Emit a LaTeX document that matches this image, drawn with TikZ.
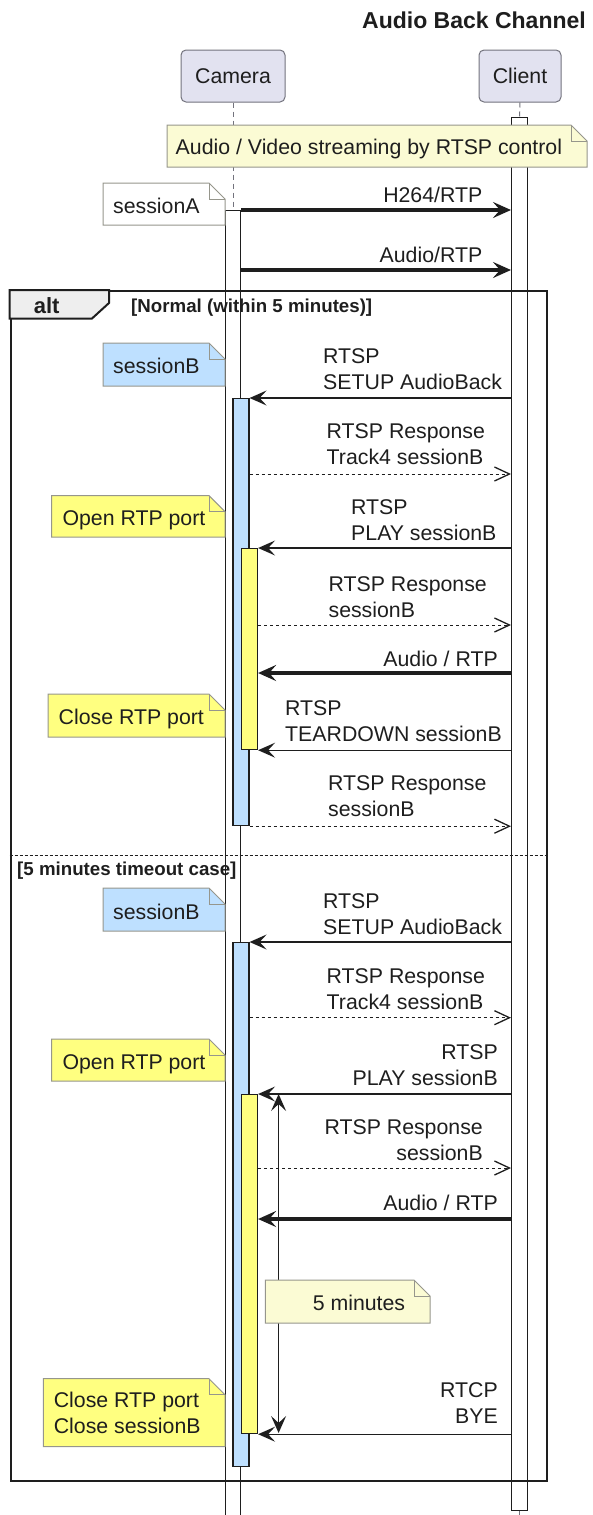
\documentclass[tikz,border=0pt]{standalone}
\usepackage{fontspec}
\setmainfont{Liberation Sans}
\usepackage{tikz}
\usetikzlibrary{arrows.meta}
\definecolor{partfill}{RGB}{226,226,240}
\definecolor{partline}{RGB}{115,115,125}
\definecolor{notepale}{RGB}{251,251,212}
\definecolor{noteline}{RGB}{150,150,140}
\definecolor{sessblue}{RGB}{190,224,255}
\definecolor{portyellow}{RGB}{255,255,128}
\definecolor{tabgray}{RGB}{238,238,238}
\definecolor{ink}{RGB}{30,30,30}

% note with a folded top right corner: x1, y1, x2, y2, fill
\newcommand{\dognote}[5]{%
  \filldraw[draw=noteline, line width=1pt, fill=#5]
    (#1,#2) -- (#3-16,#2) -- (#3,#2+16) -- (#3,#4) -- (#1,#4) -- cycle;
  \draw[draw=noteline, line width=1pt] (#3-16,#2) -- (#3-16,#2+16) -- (#3,#2+16);
}

\begin{document}
\begin{tikzpicture}[x=1pt, y=-1pt,
  every node/.style={font=\fontsize{21.3}{26}\selectfont, text=ink, inner sep=0pt},
  participant/.style={rectangle, rounded corners=5pt, fill=partfill, draw=partline,
    line width=1pt, minimum height=52pt},
  lifeline/.style={draw=partline, line width=1pt, dash pattern=on 5pt off 4pt},
  actbar/.style={rectangle, draw=ink, line width=1.2pt, minimum width=16pt, anchor=north},
  msg/.style={draw=ink, line width=1.3pt, -{Stealth[length=17pt, width=15pt, inset=7pt]}},
  stream/.style={draw=ink, line width=3.5pt, -{Stealth[length=18pt, width=16pt, inset=7pt]}},
  reply/.style={draw=ink, line width=1pt, dash pattern=on 3pt off 3pt,
    -{Straight Barb[length=15pt, width=14pt, line width=1.3pt]}},
  guard/.style={font=\fontsize{18.7}{22}\selectfont\bfseries, anchor=base west},
  lbl/.style={align=left, anchor=south west},
  rlbl/.style={align=right, anchor=south east},
  notetext/.style={anchor=base west}]
  \useasboundingbox (0,0) rectangle (592,1515);

  \node[font=\fontsize{23}{28}\selectfont\bfseries, anchor=base east] (title) at (586,28) {Audio Back Channel};

  \node[participant, minimum width=104pt] (cam) at (233,76) {Camera};
  \node[participant, minimum width=82pt] (cli) at (520,76) {Client};

  % rows of the messages
  \coordinate (rAudio) at (0,270);
  \coordinate (rResp1) at (0,474);
  \coordinate (rResp2) at (0,625);
  \coordinate (rRtpA) at (0,673);
  \coordinate (rElse) at (0,855);
  \coordinate (rResp4) at (0,1017.7);
  \coordinate (rResp5) at (0,1168);
  \coordinate (rRtpB) at (0,1219);
  \coordinate (tmTop) at (278.6,1094);
  \coordinate (tmBot) at (278.6,1433);

  % activations over the whole session
  \node[actbar, fill=white, minimum height=1393pt] (cliBar) at (519.6,117) {};
  \node[actbar, fill=white, minimum width=15.5pt, minimum height=1310pt] (camBar) at (233,210) {};
  \draw[lifeline] (cam.south) -- (camBar.north);
  \draw[lifeline] (cli.south) -- (cliBar.north);
  \draw[lifeline] (cliBar.south) -- ++(0,10);

  % alt frame
  \node[draw=ink, line width=2pt, minimum width=536pt, minimum height=1190pt, anchor=north west] (altFrame) at (9.5,290) {};
  \filldraw[fill=tabgray, draw=ink, line width=2pt]
    (altFrame.north west) -- (109,290) -- (109,303) -- (92,318.5) -- (9.5,318.5) -- cycle;
  \node[font=\fontsize{22}{26}\selectfont\bfseries, anchor=base] (altKw) at (46.7,313.5) {alt};
  \node[guard] (g1) at (131,312.7) {[Normal (within 5 minutes)]};
  \draw[draw=ink, line width=1pt, dash pattern=on 3pt off 2pt] (altFrame.west |- rElse) -- (altFrame.east |- rElse);
  \node[guard] (g2) at (17,875.7) {[5 minutes timeout case]};

  % sessionB and RTP port activations
  \node[actbar, fill=sessblue, minimum height=427pt] (bA) at (241,398) {};
  \node[actbar, fill=portyellow, minimum height=201pt] (yA) at (249.5,548) {};
  \node[actbar, fill=sessblue, minimum height=524pt] (bB) at (241,942) {};
  \node[actbar, fill=portyellow, minimum height=339pt] (yB) at (249.5,1094) {};

  \draw[msg, {Stealth[length=17pt, width=15pt, inset=7pt]}-{Stealth[length=17pt, width=15pt, inset=7pt]}] (tmTop) -- (tmBot);

  % notes
  \dognote{167}{125}{587}{167}{notepale}
  \node[notetext] (nStream) at (175.5,154) {Audio / Video streaming by RTSP control};
  \dognote{103}{183}{225}{225}{white}
  \node[notetext] (nSessA) at (113,213.6) {sessionA};
  \dognote{103}{343}{225}{386}{sessblue}
  \node[notetext] (nSessB1) at (113,373.6) {sessionB};
  \dognote{51.7}{495.7}{225}{537}{portyellow}
  \node[notetext] (nOpen1) at (62.3,525.6) {Open RTP port};
  \dognote{48}{694}{225}{737}{portyellow}
  \node[notetext] (nClose1) at (58.5,724.6) {Close RTP port};
  \dognote{103}{888}{225}{931}{sessblue}
  \node[notetext] (nSessB2) at (113,919.6) {sessionB};
  \dognote{51.7}{1039}{225}{1081}{portyellow}
  \node[notetext] (nOpen2) at (62.3,1069.6) {Open RTP port};
  \dognote{265.4}{1280}{430}{1323}{notepale}
  \node[notetext] (nTimer) at (312.6,1310.6) {5 minutes};
  \dognote{43.4}{1378.7}{225}{1446.7}{portyellow}
  \node[align=left, anchor=south west] (nClose2) at (53.6,1434.3) {Close RTP port\\Close sessionB};

  % messages
  \draw[stream] (camBar.north east) -- (cliBar.west |- camBar.north);
  \node[anchor=base east] (m1) at (482.5,202.6) {H264/RTP};
  \draw[stream] (camBar.east |- rAudio) -- (cliBar.west |- rAudio);
  \node[anchor=base east] (m2) at (482.5,262) {Audio/RTP};

  \draw[msg] (cliBar.west |- bA.north) -- (bA.north east);
  \node[lbl] (m3) at (323,389.6) {RTSP\\SETUP AudioBack};
  \draw[reply] (bA.east |- rResp1) -- (cliBar.west |- rResp1);
  \node[lbl] (m4) at (326.5,464.6) {RTSP Response\\Track4 sessionB};
  \draw[msg] (cliBar.west |- yA.north) -- (yA.north east);
  \node[lbl] (m5) at (351,540.6) {RTSP\\PLAY sessionB};
  \draw[reply] (yA.east |- rResp2) -- (cliBar.west |- rResp2);
  \node[lbl] (m6) at (328.4,617.6) {RTSP Response\\sessionB};
  \draw[stream] (cliBar.west |- rRtpA) -- (yA.east |- rRtpA);
  \node[anchor=base east] (m7) at (498,666) {Audio / RTP};
  \draw[msg] (cliBar.west |- yA.south) -- (yA.south east);
  \node[lbl] (m8) at (285,741.6) {RTSP\\TEARDOWN sessionB};
  \draw[reply] (bA.south east) -- (cliBar.west |- bA.south);
  \node[lbl] (m9) at (328,816.6) {RTSP Response\\sessionB};

  \draw[msg] (cliBar.west |- bB.north) -- (bB.north east);
  \node[lbl] (m10) at (323,934.6) {RTSP\\SETUP AudioBack};
  \draw[reply] (bB.east |- rResp4) -- (cliBar.west |- rResp4);
  \node[lbl] (m11) at (326.5,1010) {RTSP Response\\Track4 sessionB};
  \draw[msg] (cliBar.west |- yB.north) -- (yB.north east);
  \node[rlbl] (m12) at (498,1085.6) {RTSP\\PLAY sessionB};
  \draw[reply] (yB.east |- rResp5) -- (cliBar.west |- rResp5);
  \node[rlbl] (m13) at (483,1160.6) {RTSP Response\\sessionB};
  \draw[stream] (cliBar.west |- rRtpB) -- (yB.east |- rRtpB);
  \node[anchor=base east] (m14) at (498,1210.6) {Audio / RTP};
  \draw[msg] (cliBar.west |- yB.south) -- (yB.south east);
  \node[rlbl] (m15) at (498,1424) {RTCP\\BYE};
\end{tikzpicture}
\end{document}
